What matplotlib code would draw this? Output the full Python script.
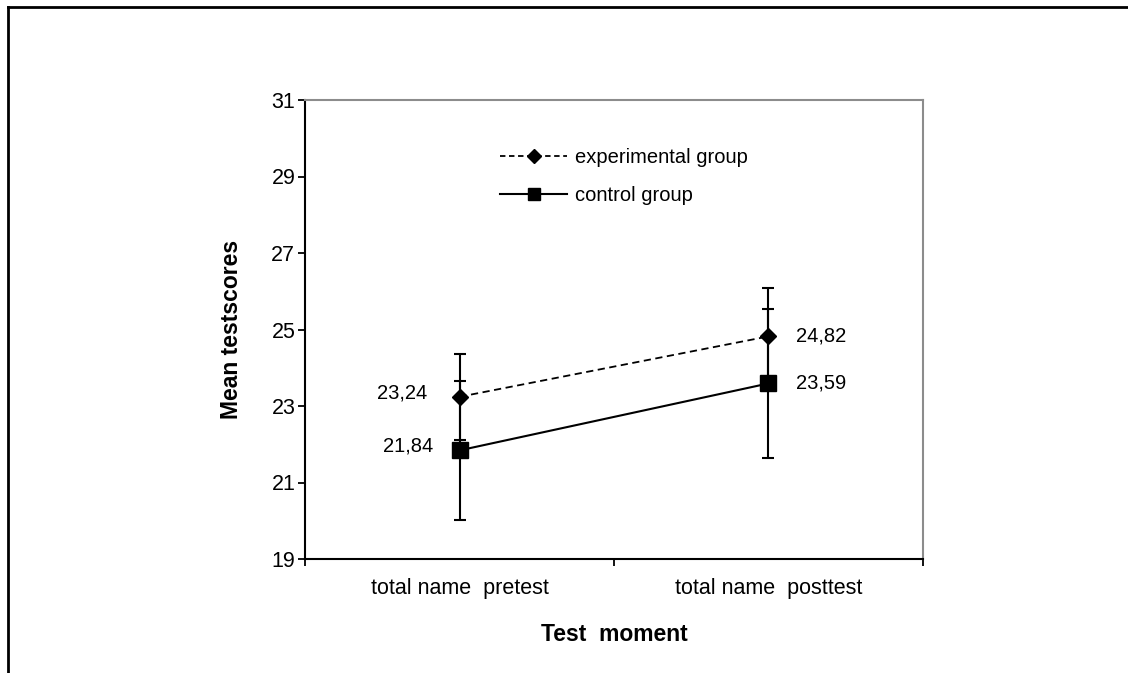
import matplotlib
matplotlib.use("Agg")
import matplotlib.pyplot as plt
from matplotlib.lines import Line2D

plt.rcParams['font.family'] = ['Liberation Sans', 'DejaVu Sans']

categories = ["total name  pretest", "total name  posttest"]
exp_means = [23.24, 24.82]
exp_err = [1.12, 1.27]
ctrl_means = [21.84, 23.59]
ctrl_err = [1.82, 1.95]
exp_labels = ["23,24", "24,82"]
ctrl_labels = ["21,84", "23,59"]
yticks = [19, 21, 23, 25, 27, 29, 31]

fig = plt.figure(figsize=(11.28, 6.73), dpi=100)
ax = fig.add_axes([305/1128, 1-559/673, 618/1128, 459/673])

xpos = [0.5, 1.5]
ax.errorbar(xpos, ctrl_means, yerr=ctrl_err, color='black', lw=1.5, marker='s',
            markersize=11, capsize=4.5, capthick=1.5, elinewidth=1.5,
            label='control group', zorder=3)
ax.errorbar(xpos, exp_means, yerr=exp_err, color='black', lw=1.3, ls=(0, (4, 2.5)),
            marker='D', markersize=8, capsize=4.5, capthick=1.5, elinewidth=1.5,
            label='experimental group', zorder=4)

for x, y, s in zip(xpos, exp_means, exp_labels):
    if x < 1:
        ax.annotate(s, (x, y), xytext=(-23, 3), textcoords='offset points',
                    ha='right', va='center', fontsize=14.5)
    else:
        ax.annotate(s, (x, y), xytext=(20, 0), textcoords='offset points',
                    ha='left', va='center', fontsize=14.5)
for x, y, s in zip(xpos, ctrl_means, ctrl_labels):
    if x < 1:
        ax.annotate(s, (x, y), xytext=(-19, 3), textcoords='offset points',
                    ha='right', va='center', fontsize=14.5)
    else:
        ax.annotate(s, (x, y), xytext=(20, 0), textcoords='offset points',
                    ha='left', va='center', fontsize=14.5)

ax.set_xlim(0, 2)
ax.set_ylim(19, 31)
ax.set_yticks(yticks)
ax.set_yticklabels([str(t) for t in yticks], fontsize=15.5)
ax.set_xticks([0, 1, 2])
ax.set_xticklabels([])
ax.set_xticks(xpos, minor=True)
ax.set_xticklabels(categories, minor=True, fontsize=15.5)
ax.tick_params(axis='x', which='minor', length=0, pad=14)
ax.tick_params(axis='both', which='major', direction='out', length=5, width=1.3, pad=2)

for s in ['left', 'bottom']:
    ax.spines[s].set_linewidth(1.5)
    ax.spines[s].set_color('black')
for s in ['top', 'right']:
    ax.spines[s].set_linewidth(1.5)
    ax.spines[s].set_color('#8c8c8c')

ax.set_ylabel("Mean testscores", fontsize=16.5, fontweight='bold', labelpad=20)
ax.set_xlabel("Test  moment", fontsize=16.5, fontweight='bold', labelpad=17)

handles = [
    Line2D([], [], color='black', lw=1.3, ls=(0, (3, 2)), marker='D', markersize=7),
    Line2D([], [], color='black', lw=1.5, marker='s', markersize=9),
]
ax.legend(handles, ['experimental group', 'control group'], loc='upper left',
          bbox_to_anchor=(0.316, 0.895), frameon=False, fontsize=14.5,
          handlelength=3.3, handletextpad=0.42, labelspacing=0.95,
          borderpad=0, borderaxespad=0)

# outer frame (top and left)
fig.add_artist(Line2D([8/1128, 1.0], [1-7/673, 1-7/673], color='black', lw=2,
                      transform=fig.transFigure))
fig.add_artist(Line2D([8/1128, 8/1128], [0, 1-7/673], color='black', lw=2,
                      transform=fig.transFigure))

fig.savefig("out.png", dpi=100)
